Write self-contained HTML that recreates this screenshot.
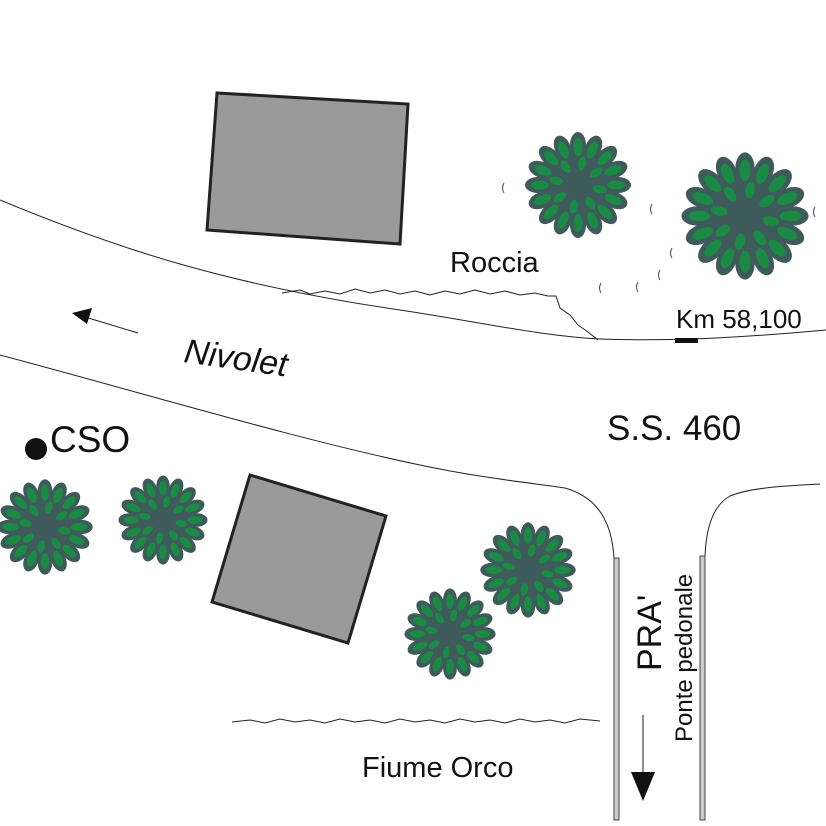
<!DOCTYPE html>
<html><head><meta charset="utf-8"><style>
html,body{margin:0;padding:0;background:#fff}
svg{display:block}
text{font-family:"Liberation Sans",Arial,sans-serif;fill:#111}
</style></head><body>
<svg width="826" height="826" viewBox="0 0 826 826" xmlns="http://www.w3.org/2000/svg">
<defs>
<ellipse id="dl" cx="0" cy="-40" rx="8" ry="13" fill="#3f5a5a"/>
<ellipse id="gl" cx="0" cy="-38" rx="4.5" ry="9" fill="#1b8a45"/>
<ellipse id="gi" cx="0" cy="-22" rx="4" ry="7" fill="#1b8a45"/>
<g id="tree">
<circle r="38" fill="#3f5a5a"/>
<use href="#dl"/><use href="#dl" transform="rotate(22.5)"/><use href="#dl" transform="rotate(45)"/><use href="#dl" transform="rotate(67.5)"/><use href="#dl" transform="rotate(90)"/><use href="#dl" transform="rotate(112.5)"/><use href="#dl" transform="rotate(135)"/><use href="#dl" transform="rotate(157.5)"/><use href="#dl" transform="rotate(180)"/><use href="#dl" transform="rotate(202.5)"/><use href="#dl" transform="rotate(225)"/><use href="#dl" transform="rotate(247.5)"/><use href="#dl" transform="rotate(270)"/><use href="#dl" transform="rotate(292.5)"/><use href="#dl" transform="rotate(315)"/><use href="#dl" transform="rotate(337.5)"/>
<use href="#gl"/><use href="#gl" transform="rotate(22.5)"/><use href="#gl" transform="rotate(45)"/><use href="#gl" transform="rotate(67.5)"/><use href="#gl" transform="rotate(90)"/><use href="#gl" transform="rotate(112.5)"/><use href="#gl" transform="rotate(135)"/><use href="#gl" transform="rotate(157.5)"/><use href="#gl" transform="rotate(180)"/><use href="#gl" transform="rotate(202.5)"/><use href="#gl" transform="rotate(225)"/><use href="#gl" transform="rotate(247.5)"/><use href="#gl" transform="rotate(270)"/><use href="#gl" transform="rotate(292.5)"/><use href="#gl" transform="rotate(315)"/><use href="#gl" transform="rotate(337.5)"/>
<use href="#gi" transform="rotate(11)"/><use href="#gi" transform="rotate(56)"/><use href="#gi" transform="rotate(101)"/><use href="#gi" transform="rotate(146)"/><use href="#gi" transform="rotate(191)"/><use href="#gi" transform="rotate(236)"/><use href="#gi" transform="rotate(281)"/><use href="#gi" transform="rotate(326)"/>
<circle r="11" fill="#3f5a5a"/>
</g>
</defs>

<path d="M0,200 C120,250 230,285 400,310 C480,322 540,336 600,339 C680,342 760,336 826,330" fill="none" stroke="#222" stroke-width="1"/>
<path d="M0,355 C150,395 300,440 420,465 C480,478 540,484 565,488 C600,498 612,525 614,558" fill="none" stroke="#222" stroke-width="1"/>
<path d="M820,484 C780,486 750,488 730,496 C712,506 706,530 705,556" fill="none" stroke="#222" stroke-width="1"/>

<path d="M282,293 L300,290 310,294 325,291 340,294 355,289 370,293 385,290 400,294 415,291 430,295 445,291 460,294 475,290 490,294 505,291 520,295 535,293 548,296 556,296 560,308 570,315 578,325 588,332 598,340" fill="none" stroke="#222" stroke-width="1"/>
<path d="M232,722 L250,720 265,723 280,719 295,722 310,720 325,723 340,719 355,722 370,720 385,723 400,719 415,722 430,720 445,723 460,719 475,722 490,720 505,723 520,719 535,722 550,720 565,723 580,719 600,721" fill="none" stroke="#222" stroke-width="1"/>

<g fill="none" stroke="#444" stroke-width="1">
<path d="M504,183 q-3,5 0,10"/><path d="M652,204 q-3,5 0,10"/><path d="M815,207 q-3,5 0,10"/>
<path d="M672,248 q-3,5 0,10"/><path d="M660,270 q-3,5 0,10"/><path d="M638,282 q-3,5 0,10"/><path d="M601,283 q-3,5 0,10"/>
</g>

<polygon points="217,93 408,104 400,244 207,230" fill="#9a9a9a" stroke="#222" stroke-width="3"/>
<polygon points="250,475 386,516 348,643 212,602" fill="#9a9a9a" stroke="#222" stroke-width="3"/>

<use href="#tree" transform="translate(578,185) scale(1.0)"/>
<use href="#tree" transform="translate(745,216) scale(1.2)"/>
<use href="#tree" transform="translate(45,527) scale(0.9)"/>
<use href="#tree" transform="translate(163,520) scale(0.84)"/>
<use href="#tree" transform="translate(528,570) scale(0.9)"/>
<use href="#tree" transform="translate(450,634) scale(0.86)"/>

<rect x="614" y="558" width="5" height="262" fill="#ccc" stroke="#444" stroke-width="1"/>
<rect x="700" y="556" width="5" height="264" fill="#ccc" stroke="#444" stroke-width="1"/>

<line x1="138" y1="333" x2="85" y2="317" stroke="#222" stroke-width="1"/>
<polygon points="72,313 92,308 87,324" fill="#111"/>
<line x1="643" y1="715" x2="643" y2="775" stroke="#222" stroke-width="1"/>
<polygon points="631,772 655,772 643,801" fill="#111"/>

<rect x="675" y="338" width="23" height="5" fill="#111"/>
<circle cx="36" cy="449" r="11" fill="#111"/>

<text x="450" y="272" font-size="29">Roccia</text>
<text x="676" y="328" font-size="26">Km 58,100</text>
<text x="183" y="362" font-size="34" font-style="italic" transform="rotate(8 183 362)">Nivolet</text>
<text x="50" y="452" font-size="37">CSO</text>
<text x="607" y="440" font-size="35">S.S. 460</text>
<text x="362" y="777" font-size="29">Fiume Orco</text>
<text x="0" y="0" font-size="34" transform="translate(661,671) rotate(-90)">PRA'</text>
<text x="0" y="0" font-size="24" transform="translate(692,742) rotate(-90)">Ponte pedonale</text>
</svg>
</body></html>
